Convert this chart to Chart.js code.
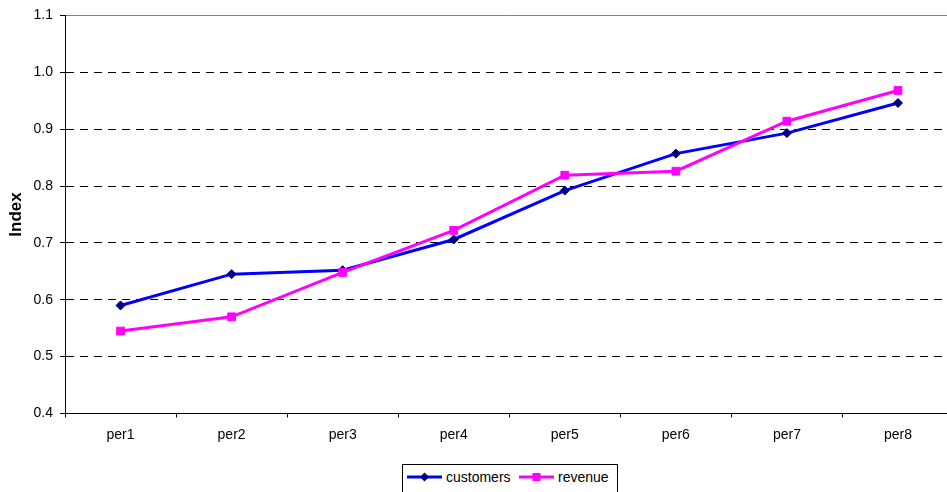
<!DOCTYPE html>
<html><head><meta charset="utf-8">
<script src="https://cdn.jsdelivr.net/npm/chart.js@4.4.0/dist/chart.umd.min.js"></script>
<style>
html,body{margin:0;padding:0;background:#fff;overflow:hidden;width:947px;height:492px;}
#wrap{position:absolute;left:0;top:0;width:960px;height:492px;}
#legend{position:absolute;left:402px;top:464px;width:216px;height:34px;box-sizing:border-box;border:1px solid #000;background:#fff;font:14px "Liberation Sans",Arial,sans-serif;color:#000;}
.item{position:absolute;top:0;height:24px;display:flex;align-items:center;white-space:nowrap;}
.item svg{display:block;}
</style></head><body>
<div id="wrap"><canvas id="c" width="960" height="492"></canvas></div>
<div id="legend">
 <div class="item" style="left:4px"><svg width="36" height="12"><line x1="0" y1="6" x2="35" y2="6" stroke="#0000FF" stroke-width="3"/><polygon points="17.5,1.5 22,6 17.5,10.5 13,6" fill="#000080"/></svg><span style="margin-left:3px">customers</span></div>
 <div class="item" style="left:116px"><svg width="36" height="12"><line x1="0" y1="6" x2="35" y2="6" stroke="#FF00FF" stroke-width="3"/><rect x="13.5" y="2" width="8" height="8" fill="#FF00FF"/></svg><span style="margin-left:3px">revenue</span></div>
</div>
<script>
const categories = ['per1','per2','per3','per4','per5','per6','per7','per8'];
const customers = [0.590,0.645,0.652,0.706,0.792,0.857,0.893,0.946];
const revenue = [0.545,0.570,0.648,0.722,0.819,0.826,0.914,0.968];
const seriesNames = ['customers','revenue'];
const yMin = 0.4, yMax = 1.1, yStep = 0.1;
const yTitle = 'Index';

Chart.defaults.font.family = '"Liberation Sans", Arial, sans-serif';
Chart.defaults.color = '#000';

new Chart(document.getElementById('c'), {
  type: 'line',
  data: {
    labels: categories,
    datasets: [
      {label: seriesNames[0], data: customers, order: 2, borderColor: '#0000FF', borderWidth: 3, tension: 0,
       pointStyle: 'rectRot', pointRadius: 4.5, pointBackgroundColor: '#000080', pointBorderColor: '#000080', pointBorderWidth: 1, fill: false},
      {label: seriesNames[1], data: revenue, order: 1, borderColor: '#FF00FF', borderWidth: 3, tension: 0,
       pointStyle: 'rect', pointRadius: 5.5, pointBackgroundColor: '#FF00FF', pointBorderColor: '#FF00FF', pointBorderWidth: 1, fill: false}
    ]
  },
  options: {
    responsive: false,
    animation: false,
    devicePixelRatio: 1,
    layout: {padding: {top: 11, right: 2, bottom: 43.5, left: 0}},
    plugins: {legend: {display: false}, tooltip: {enabled: false}},
    scales: {
      x: {
        type: 'category',
        offset: true,
        grid: {offset: true, display: true, drawOnChartArea: false, drawTicks: true, tickLength: 4, color: '#000', tickColor: '#000'},
        border: {display: true, color: '#000', width: 1},
        ticks: {font: {size: 14}, color: '#000', padding: 9, maxRotation: 0, autoSkip: false},
        afterFit: s => { s.height = 35; }
      },
      y: {
        min: yMin, max: yMax,
        grid: {
          drawTicks: true, tickLength: 5, tickColor: '#000', tickBorderDash: [],
          color: ctx => (ctx.tick && ctx.tick.value > yMax - 0.01) ? '#808080' : '#000',
          lineWidth: 1
        },
        border: {display: true, color: '#000', width: 1,
          dash: ctx => (ctx.tick && ctx.tick.value > yMax - 0.01) ? [] : [8, 6]},
        ticks: {stepSize: yStep, font: {size: 14}, color: '#000', padding: 7,
          callback: v => Number(v).toFixed(1)},
        title: {display: true, text: yTitle, font: {size: 17, weight: 'bold'}, color: '#000', padding: {top: 6, bottom: 0}},
        afterFit: s => { s.width = 65; }
      }
    }
  }
});
</script>
</body></html>
